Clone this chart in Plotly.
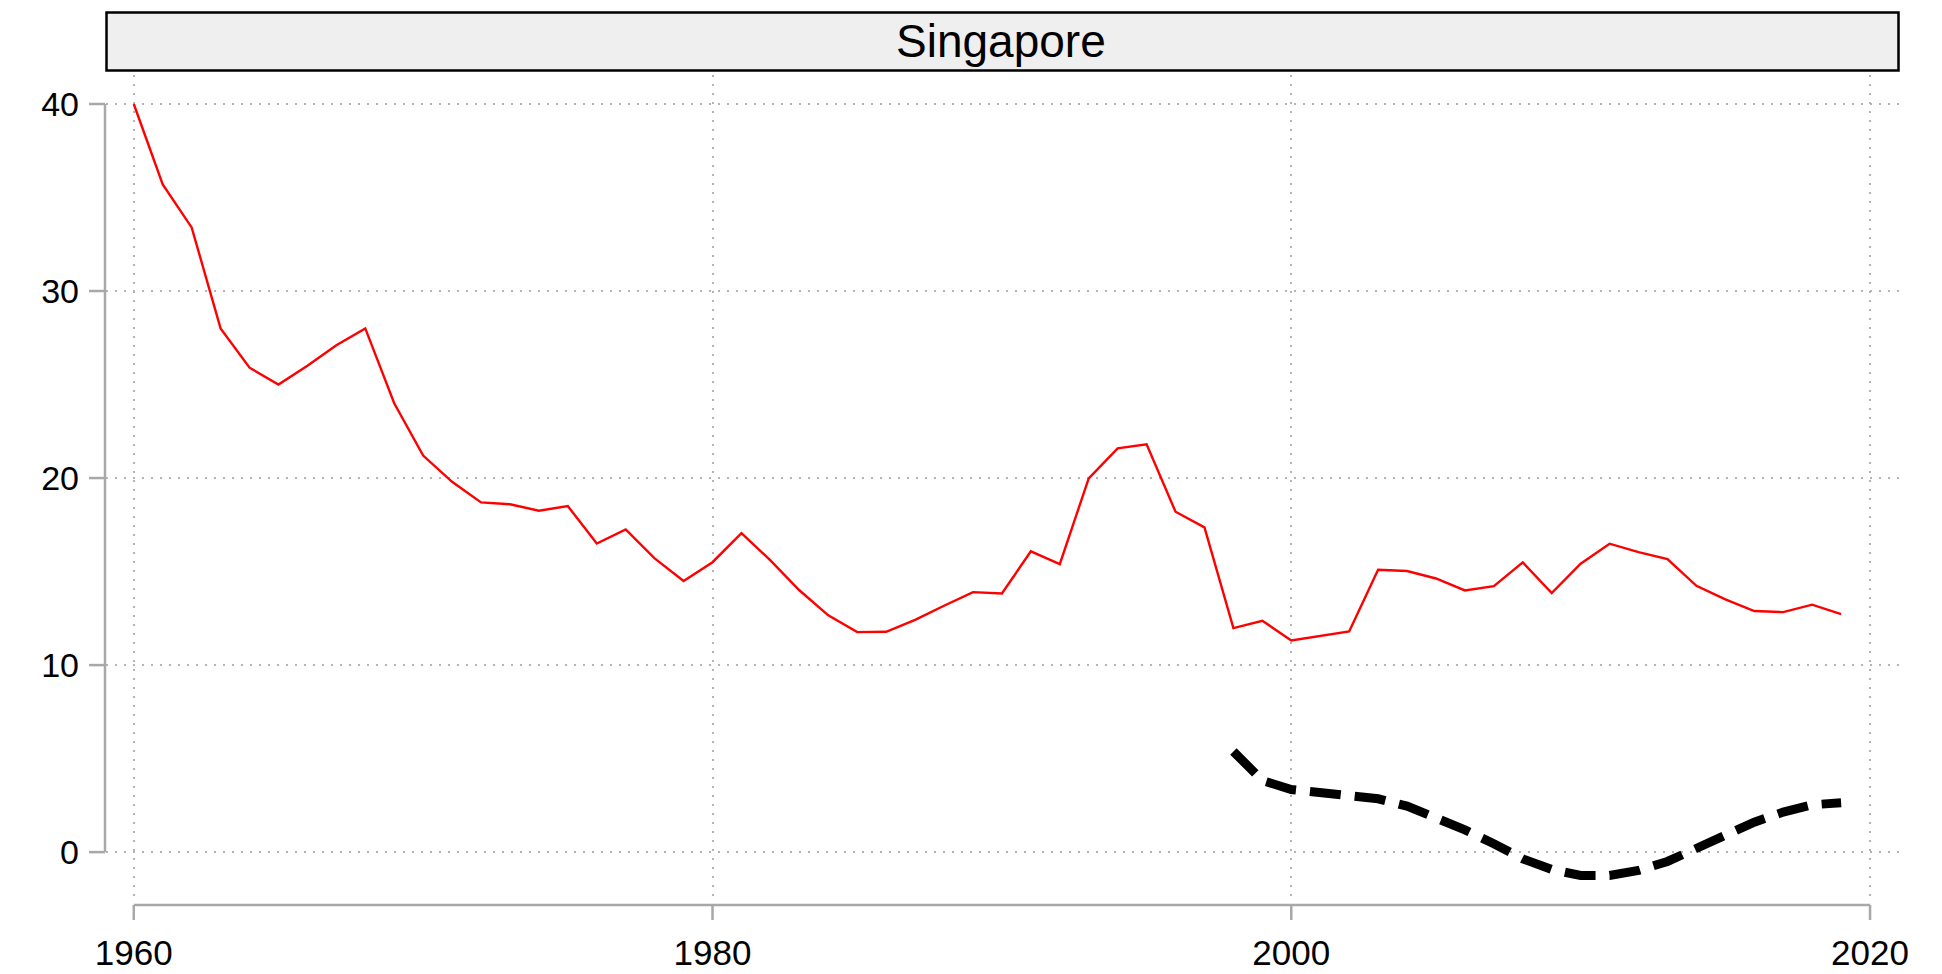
import plotly.graph_objects as go

# ---- data ----
years = list(range(1960, 2020))
rate = [40.0, 35.7, 33.4, 28.0, 25.9, 25.0, 26.0, 27.1, 28.0, 24.0,
        21.2, 19.8, 18.7, 18.6, 18.25, 18.5, 16.5, 17.25, 15.7, 14.5,
        15.5, 17.05, 15.6, 14.0, 12.66, 11.76, 11.78, 12.42, 13.17, 13.9,
        13.83, 16.08, 15.4, 19.98, 21.59, 21.8, 18.2, 17.36, 11.98, 12.37,
        11.32, 11.55, 11.8, 15.1, 15.03, 14.63, 13.99, 14.22, 15.49, 13.85,
        15.42, 16.49, 16.04, 15.67, 14.24, 13.51, 12.89, 12.83, 13.23, 12.73]

trend_years = list(range(1998, 2020))
trend = [5.38, 3.83, 3.35, 3.19, 3.12, 2.85, 2.46, 1.87, 1.19, 0.45,
         -0.36, -0.93, -1.25, -1.25, -0.98, -0.5, 0.18, 0.93, 1.6, 2.14,
         2.53, 2.64]

x_ticks = [1960, 1980, 2000, 2020]
y_ticks = [0, 10, 20, 30, 40]
panel_title = "Singapore"

# ---- layout geometry ----
W, H = 1942, 974
ML, MR, MT, MB = 106, 41, 75, 77
PW = W - ML - MR
PH = H - MT - MB
XR = [1959.04, 2021.07]
YR = [-2.40, 41.55]

def px_to_paper_x(px):
    return (px - ML) / PW

def px_to_paper_y(py):
    return (H - MB - py) / PH

FONT = "Liberation Sans, Arial, Helvetica, sans-serif"
AXIS_COL = "#a8a8a8"
GRID_COL = "#b4b4b4"

fig = go.Figure()
fig.add_trace(go.Scatter(x=years, y=rate, mode="lines",
                         line=dict(color="#ff0000", width=2.4),
                         showlegend=False, hoverinfo="x+y"))
fig.add_trace(go.Scatter(x=trend_years, y=trend, mode="lines",
                         line=dict(color="#000000", width=9, dash="31px,14px"),
                         showlegend=False, hoverinfo="x+y"))

shapes = []
# x axis line (spans tick range) and ticks
xa_y = px_to_paper_y(905)
xt_y = px_to_paper_y(920)
shapes.append(dict(type="line", xref="x", yref="paper", x0=x_ticks[0], x1=x_ticks[-1],
                   y0=xa_y, y1=xa_y, line=dict(color=AXIS_COL, width=2.5), layer="above"))
for t in x_ticks:
    shapes.append(dict(type="line", xref="x", yref="paper", x0=t, x1=t, y0=xa_y, y1=xt_y,
                       line=dict(color=AXIS_COL, width=2.5)))
# y axis line and ticks
ya_x = px_to_paper_x(105)
yt_x = px_to_paper_x(89)
shapes.append(dict(type="line", xref="paper", yref="y", x0=ya_x, x1=ya_x,
                   y0=y_ticks[0], y1=y_ticks[-1], line=dict(color=AXIS_COL, width=2.5)))
for t in y_ticks:
    shapes.append(dict(type="line", xref="paper", yref="y", x0=yt_x, x1=ya_x, y0=t, y1=t,
                       line=dict(color=AXIS_COL, width=2.5)))
# title strip
shapes.append(dict(type="rect", xref="paper", yref="paper",
                   x0=px_to_paper_x(106.5), x1=px_to_paper_x(1898.5),
                   y0=px_to_paper_y(70.5), y1=px_to_paper_y(12.5),
                   fillcolor="#efefef", line=dict(color="#000000", width=2.5)))

fig.update_layout(
    width=W, height=H,
    margin=dict(l=ML, r=MR, t=MT, b=MB, pad=0, autoexpand=False),
    paper_bgcolor="white", plot_bgcolor="white",
    font=dict(family=FONT, color="#000000", size=34),
    shapes=shapes,
    annotations=[dict(text=panel_title, xref="paper", yref="paper",
                      x=px_to_paper_x(1001), y=px_to_paper_y(41),
                      xanchor="center", yanchor="middle", showarrow=False,
                      font=dict(family=FONT, size=46, color="#000000"))],
    xaxis=dict(range=XR, tickvals=x_ticks, ticktext=[str(v) for v in x_ticks],
               showline=False, zeroline=False, ticks="", automargin=False,
               showgrid=True, gridcolor=GRID_COL, gridwidth=1.5, griddash="2px,7px",
               tickfont=dict(size=35), ticklabelstandoff=32, fixedrange=True),
    yaxis=dict(range=YR, tickvals=y_ticks, ticktext=[str(v) for v in y_ticks],
               showline=False, zeroline=False, ticks="", automargin=False,
               showgrid=True, gridcolor=GRID_COL, gridwidth=1.5, griddash="2px,7px",
               tickfont=dict(size=34), ticklabelstandoff=26, fixedrange=True),
)

fig.write_html("out.html", config={"displayModeBar": False},
               post_script="document.body.style.margin='0';document.body.style.padding='0';document.body.style.overflow='hidden';")
